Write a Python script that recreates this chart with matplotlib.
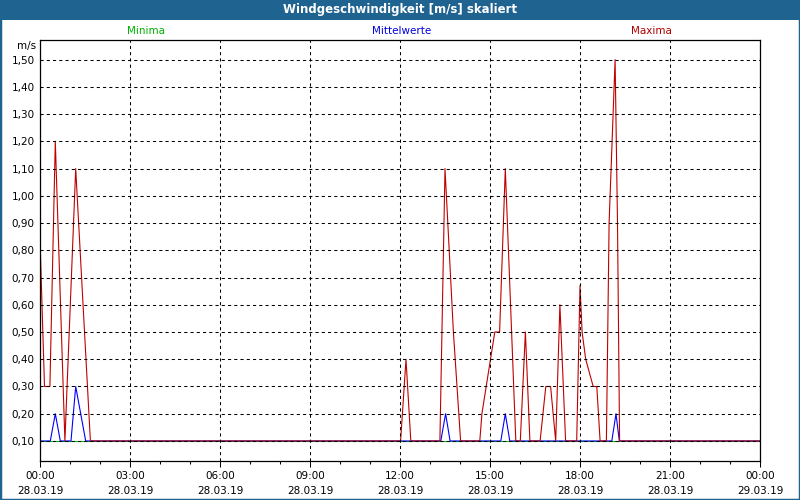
import numpy as np
import matplotlib
matplotlib.use('Agg')
import matplotlib.pyplot as plt
from matplotlib.patches import Rectangle
from matplotlib.ticker import FixedLocator, FuncFormatter

# hours since 28.03.19 00:00
max_hours = [0.0, 0.15, 0.33, 0.51, 0.83, 1.19, 1.68,
             12.02, 12.20, 12.36,
             13.33, 13.50, 13.78, 14.02,
             14.66, 14.73, 15.16, 15.32, 15.51, 15.86,
             16.01, 16.18, 16.33,
             16.67, 16.86, 17.02, 17.19, 17.33, 17.52,
             17.89, 18.00, 18.07, 18.19, 18.44, 18.56, 18.67,
             18.88, 18.97, 19.17, 19.25, 19.32, 24.0]
max_vals = [0.84, 0.30, 0.30, 1.20, 0.10, 1.10, 0.10,
            0.10, 0.40, 0.10,
            0.10, 1.10, 0.50, 0.10,
            0.10, 0.20, 0.50, 0.50, 1.10, 0.10,
            0.10, 0.50, 0.10,
            0.10, 0.30, 0.30, 0.10, 0.60, 0.10,
            0.10, 0.67, 0.50, 0.40, 0.30, 0.30, 0.10,
            0.10, 0.90, 1.50, 0.90, 0.10, 0.10]

mean_hours = [0.0, 0.343, 0.51, 0.677, 1.033, 1.19, 1.523,
              13.36, 13.52, 13.67,
              15.36, 15.51, 15.66,
              19.06, 19.20, 19.31, 24.0]
mean_vals = [0.10, 0.10, 0.20, 0.10, 0.10, 0.30, 0.10,
             0.10, 0.20, 0.10,
             0.10, 0.20, 0.10,
             0.10, 0.20, 0.10, 0.10]

min_hours = [0.0, 24.0]
min_vals = [0.10, 0.10]

tick_hours = [0, 3, 6, 9, 12, 15, 18, 21, 24]
tick_times = ['00:00', '03:00', '06:00', '09:00', '12:00', '15:00', '18:00', '21:00', '00:00']
tick_dates = ['28.03.19'] * 8 + ['29.03.19']
y_ticks = [0.1, 0.2, 0.3, 0.4, 0.5, 0.6, 0.7, 0.8, 0.9, 1.0, 1.1, 1.2, 1.3, 1.4, 1.5]

assert len(max_hours) == len(max_vals)
assert len(mean_hours) == len(mean_vals)

plt.rcParams['font.family'] = ['DejaVu Sans']
BAR = '#1f6391'

fig = plt.figure(figsize=(8, 5), dpi=100)
fig.patch.set_facecolor('white')

# title bar + frame
fig.patches.append(Rectangle((0, 1 - 20 / 500), 1, 20 / 500, transform=fig.transFigure,
                             facecolor=BAR, edgecolor='none', zorder=0))
fig.patches.append(Rectangle((0, 0), 1, 1, transform=fig.transFigure,
                             facecolor='none', edgecolor=BAR, lw=2.5, zorder=0))
fig.text(0.5, 1 - 10 / 500, 'Windgeschwindigkeit [m/s] skaliert', color='white',
         fontsize=8.5, fontweight='bold', ha='center', va='center')

ax = fig.add_axes([40 / 800, 39 / 500, 720 / 800, 421 / 500])
ax.plot(min_hours, min_vals, color='#00c000', lw=0.8)
ax.plot(mean_hours, mean_vals, color='#0000ff', lw=0.8)
ax.plot(max_hours, max_vals, color='#c00000', lw=0.8)

ax.set_xlim(0, 24)
ax.set_ylim(0.0265, 1.572)
ax.set_axisbelow(False)

ax.xaxis.set_major_locator(FixedLocator(tick_hours))
ax.xaxis.set_minor_locator(FixedLocator([h for h in range(25) if h % 3]))
ax.set_xticklabels([f'{t}\n{d}' for t, d in zip(tick_times, tick_dates)], linespacing=1.7)
ax.set_yticks(y_ticks)
ax.yaxis.set_major_formatter(FuncFormatter(lambda v, p: f'{v:.2f}'.replace('.', ',')))

ax.tick_params(axis='x', which='major', length=4, width=0.75, pad=3, labelsize=7.5, direction='out')
ax.tick_params(axis='x', which='minor', length=2.2, width=0.75, direction='out')
ax.tick_params(axis='y', length=0, pad=4, labelsize=7.5)

ax.grid(True, which='major', color='black', lw=0.75, linestyle=(0, (3, 3)))
for sp in ax.spines.values():
    sp.set_linewidth(0.9)
    sp.set_color('black')

fig.text(36 / 800, 1 - 46 / 500, 'm/s', fontsize=7.5, ha='right', va='center')
fig.text(146 / 800, 1 - 31 / 500, 'Minima', color='#00b000', fontsize=7.5, ha='center', va='center')
fig.text(402 / 800, 1 - 31 / 500, 'Mittelwerte', color='#0000e0', fontsize=7.5, ha='center', va='center')
fig.text(651 / 800, 1 - 31 / 500, 'Maxima', color='#b00000', fontsize=7.5, ha='center', va='center')

fig.savefig('out.png', dpi=100)
